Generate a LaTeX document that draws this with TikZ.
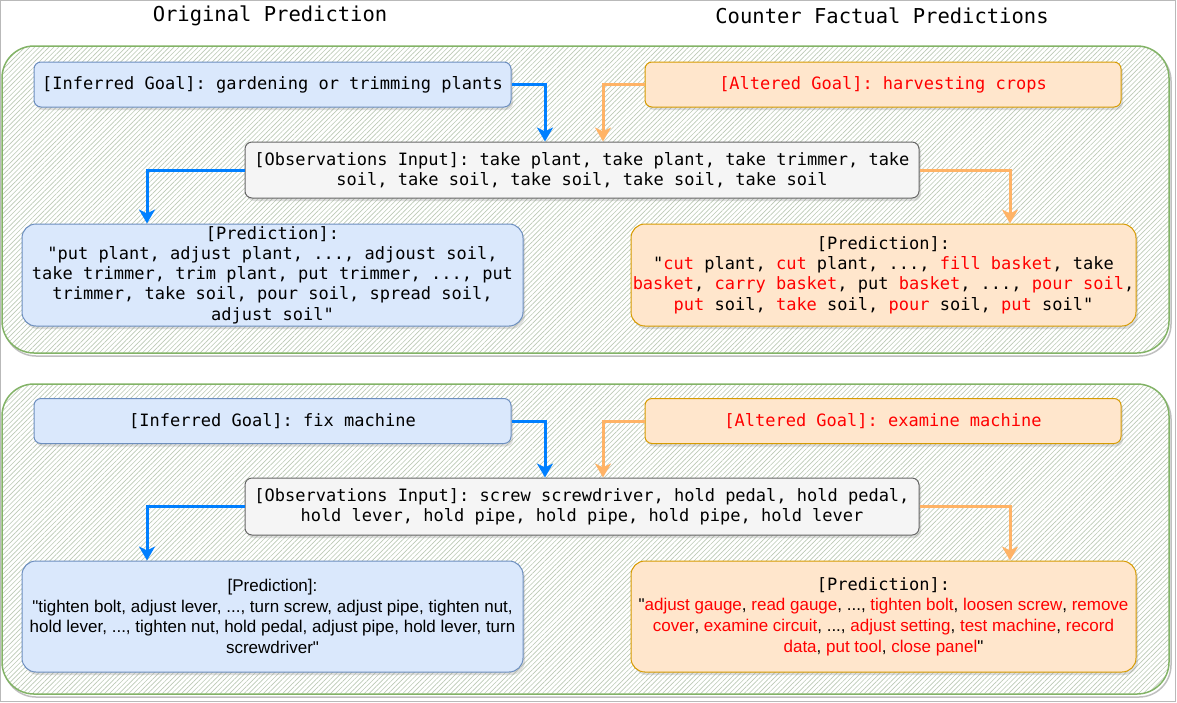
\documentclass[tikz,border=0pt]{standalone}
\usepackage{fontspec}
\setmainfont{Liberation Sans}
\setsansfont{Liberation Sans}[Ligatures=TeXOff]
\setmonofont{DejaVu Sans Mono}
\usepackage{tikz}
\usetikzlibrary{arrows.meta,patterns.meta,shadows}

\definecolor{goalfill}{HTML}{DAE8FC}
\definecolor{goalline}{HTML}{6C8EBF}
\definecolor{altfill}{HTML}{FFE6CC}
\definecolor{altline}{HTML}{D79B00}
\definecolor{obsfill}{HTML}{F5F5F5}
\definecolor{obsline}{HTML}{666666}
\definecolor{panelline}{HTML}{82B366}
\definecolor{hatchcol}{HTML}{BCCAB6}
\definecolor{arrblue}{HTML}{007FFF}
\definecolor{arrorange}{HTML}{FFB366}
\newcommand{\redw}[1]{\textcolor{red}{#1}}

\begin{document}
\begin{tikzpicture}[x=1pt, y=-1pt,
  title/.style={font=\ttfamily\fontsize{20.5}{24}\selectfont},
  panel/.style={draw=panelline, line width=1.5pt, rounded corners=32pt,
    preaction={fill=white},
    pattern={Lines[angle=45,distance=3.4pt,line width=0.65pt]}, pattern color=hatchcol},
  panelshadow/.style={draw=gray!50, line width=1.5pt, rounded corners=32pt},
  box/.style={rounded corners=7pt, line width=1pt, inner sep=1pt, align=center,
    font=\ttfamily\fontsize{17}{20.3}\selectfont,
    drop shadow={opacity=0.25, shadow xshift=2pt, shadow yshift=-3pt}},
  goal/.style={box, fill=goalfill, draw=goalline, minimum width=477pt, minimum height=45pt},
  altgoal/.style={box, fill=altfill, draw=altline, text=red, minimum width=476pt, minimum height=45pt},
  obs/.style={box, fill=obsfill, draw=obsline, minimum width=674pt, minimum height=56pt},
  pred/.style={box, rounded corners=14pt, fill=goalfill, draw=goalline, minimum width=501pt, minimum height=102pt},
  cfpred/.style={box, rounded corners=14pt, fill=altfill, draw=altline, minimum width=505pt, minimum height=102pt},
  sanstext/.style={font=\sffamily\fontsize{17}{20.7}\selectfont},
  barrow/.style={draw=arrblue, line width=3pt, -{Stealth[length=14pt,width=16pt,inset=4pt]}},
  oarrow/.style={draw=arrorange, line width=3pt, -{Stealth[length=14pt,width=16pt,inset=4pt]}}
]
\useasboundingbox (0,0) rectangle (1177,702);
\draw[gray!55] (0.5,0.5) rectangle (1175.5,701.5);

\node[title] (origtitle) at (270,16) {Original Prediction};
\node[title] (cftitle) at (882,16) {Counter Factual Predictions};

\draw[panelshadow] (4,49) rectangle (1171,356);
\draw[panel] (2,46) rectangle (1169,353);
\draw[panelshadow] (4,387) rectangle (1171,697);
\draw[panel] (2,384) rectangle (1169,694);

\node[goal] (goal1) at (272.5,84.5) {[Inferred Goal]: gardening or trimming plants};
\node[altgoal] (alt1) at (883,84.5) {[Altered Goal]: harvesting crops};
\node[obs] (obs1) at (582,170) {[Observations Input]: take plant, take plant, take trimmer, take\\soil, take soil, take soil, take soil, take soil};
\node[pred] (pred1) at (272.5,275) {[Prediction]:\\"put plant, adjust plant, ..., adjoust soil,\\take trimmer, trim plant, put trimmer, ..., put\\trimmer, take soil, pour soil, spread soil,\\adjust soil"};
\node[cfpred] (cf1) at (883.5,275) {[Prediction]:\\"\redw{cut} plant, \redw{cut} plant, ..., \redw{fill basket}, take\\\redw{basket}, \redw{carry basket}, put \redw{basket}, ..., \redw{pour soil},\\\redw{put} soil, \redw{take} soil, \redw{pour} soil, \redw{put} soil"};

\draw[barrow] (goal1.east) -| ([xshift=-37pt]obs1.north);
\draw[oarrow] (alt1.west) -| ([xshift=21pt]obs1.north);
\draw[barrow] (obs1.west) -| ([xshift=-125.5pt]pred1.north);
\draw[oarrow] (obs1.east) -| ([xshift=126.5pt]cf1.north);

\node[goal] (goal2) at (272.5,421) {[Inferred Goal]: fix machine};
\node[altgoal] (alt2) at (883,421) {[Altered Goal]: examine machine};
\node[obs, minimum height=57pt] (obs2) at (582,506.5) {[Observations Input]: screw screwdriver, hold pedal, hold pedal,\\hold lever, hold pipe, hold pipe, hold pipe, hold lever};
\node[pred, sanstext, minimum height=111pt] (pred2) at (272.5,616.5) {[Prediction]:\\"tighten bolt, adjust lever, ..., turn screw, adjust pipe, tighten nut,\\hold lever, ..., tighten nut, hold pedal, adjust pipe, hold lever, turn\\screwdriver"};
\node[cfpred, sanstext, minimum height=111pt] (cf2) at (883.5,616.5) {{\ttfamily [Prediction]:}\\"\redw{adjust gauge}, \redw{read gauge}, ..., \redw{tighten bolt}, \redw{loosen screw}, \redw{remove}\\\redw{cover}, \redw{examine circuit}, ..., \redw{adjust setting}, \redw{test machine}, \redw{record}\\\redw{data}, \redw{put tool}, \redw{close panel}"};

\draw[barrow] (goal2.east) -| ([xshift=-37pt]obs2.north);
\draw[oarrow] (alt2.west) -| ([xshift=21pt]obs2.north);
\draw[barrow] (obs2.west) -| ([xshift=-125.5pt]pred2.north);
\draw[oarrow] (obs2.east) -| ([xshift=126.5pt]cf2.north);
\end{tikzpicture}
\end{document}
